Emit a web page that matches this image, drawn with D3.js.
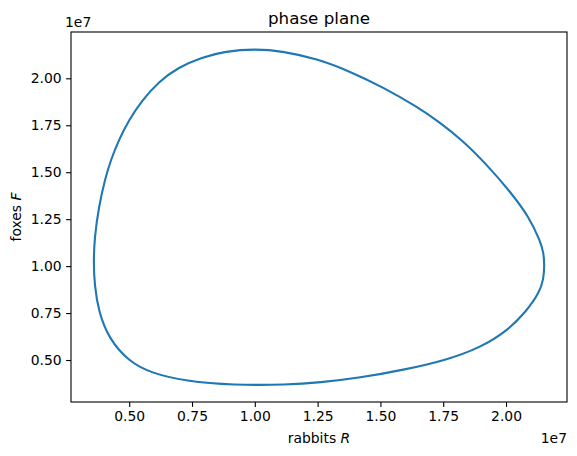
<!DOCTYPE html>
<html lang="en">
<head>
    <meta charset="utf-8">
    <title>phase plane</title>
    <style>
        body { margin:0; background:white; }
        svg text { font-family:"DejaVu Sans", sans-serif; fill:#000; }
        .axis text { font-size:13.9px; }
        .axis path, .axis line { stroke:#000; stroke-width:1.1px; }
        .label { font-size:13.9px; }
        .title { font-size:16.7px; }
        .orbit { fill:none; stroke:#1f77b4; stroke-width:2.1px; stroke-linejoin:round; }
    </style>
</head>
<body>
<svg class="chart"></svg>
<script src="https://cdnjs.cloudflare.com/ajax/libs/d3/7.8.5/d3.min.js"></script>
<script>
// rabbits and foxes along one cycle, in units of 1e7
var rabbits = [0.358, 0.362, 0.378, 0.418, 0.497, 0.590, 0.723, 0.915, 1.127, 1.259,
               1.418, 1.591, 1.763, 1.896, 2.002, 2.081, 2.135, 2.149, 2.153, 2.150,
               2.136, 2.094, 2.015, 1.922, 1.829, 1.737, 1.644, 1.511, 1.379, 1.246,
               1.114, 1.000, 0.882, 0.789, 0.696, 0.617, 0.550, 0.497, 0.457, 0.428,
               0.405, 0.378, 0.362];
var foxes   = [1.020, 0.900, 0.758, 0.616, 0.493, 0.429, 0.388, 0.366, 0.368, 0.380,
               0.405, 0.447, 0.500, 0.565, 0.652, 0.758, 0.865, 0.930, 1.000, 1.070,
               1.133, 1.257, 1.400, 1.542, 1.667, 1.765, 1.850, 1.952, 2.037, 2.104,
               2.144, 2.157, 2.144, 2.112, 2.059, 1.982, 1.881, 1.774, 1.667, 1.569,
               1.471, 1.311, 1.150];
var tickValues = [0.50, 0.75, 1.00, 1.25, 1.50, 1.75, 2.00];

var margin = {top:32, right:10, bottom:54, left:71},
    W = 577, H = 456,
    width = W - margin.left - margin.right,
    height = H - margin.top - margin.bottom;

var svg = d3.select('.chart').attr('width', W).attr('height', H);
var chart = svg.append('g')
    .attr('transform', 'translate(' + margin.left + ',' + margin.top + ')');

// matplotlib style 5% margins
function padded(vals) {
    var e = d3.extent(vals), p = (e[1] - e[0]) * 0.05;
    return [e[0] - p, e[1] + p];
}
var x = d3.scaleLinear().domain(padded(rabbits)).range([0, width]);
var y = d3.scaleLinear().domain(padded(foxes)).range([height, 0]);

var pts = rabbits.map(function(r, i){ return [r, foxes[i]]; });
// a smoothing spline evens out small reading errors
var line = d3.line()
    .x(function(d){ return x(d[0]); })
    .y(function(d){ return y(d[1]); })
    .curve(d3.curveBasisClosed);

chart.append('path').attr('class', 'orbit').attr('d', line(pts));

var fmt = function(d){ return d.toFixed(2); };
var gx = chart.append('g').attr('class', 'axis')
    .attr('transform', 'translate(0,' + height + ')')
    .call(d3.axisBottom(x).tickValues(tickValues).tickFormat(fmt).tickSizeInner(4.9).tickSizeOuter(0).tickPadding(4.5));
var gy = chart.append('g').attr('class', 'axis')
    .call(d3.axisLeft(y).tickValues(tickValues).tickFormat(fmt).tickSizeInner(4.9).tickSizeOuter(0).tickPadding(4.5));
gx.select('.domain').remove();
gy.select('.domain').remove();

// frame
chart.append('rect')
    .attr('width', width).attr('height', height)
    .attr('fill', 'none').attr('stroke', '#000').attr('stroke-width', 1.1);

// title and labels
chart.append('text').attr('class', 'title')
    .attr('x', width / 2).attr('y', -8)
    .attr('text-anchor', 'middle').text('phase plane');

var xl = chart.append('text').attr('class', 'label')
    .attr('x', width / 2).attr('y', height + 41)
    .attr('text-anchor', 'middle');
xl.append('tspan').text('rabbits ');
xl.append('tspan').attr('font-style', 'italic').text('R');

var yl = chart.append('text').attr('class', 'label')
    .attr('transform', 'translate(' + (-50) + ',' + (height / 2) + ') rotate(-90)')
    .attr('text-anchor', 'middle');
yl.append('tspan').text('foxes ');
yl.append('tspan').attr('font-style', 'italic').text('F');

chart.append('text').attr('class', 'label')
    .attr('x', width).attr('y', height + 41)
    .attr('text-anchor', 'end').text('1e7');
chart.append('text').attr('class', 'label')
    .attr('x', -6).attr('y', -5)
    .text('1e7');
</script>
</body>
</html>
